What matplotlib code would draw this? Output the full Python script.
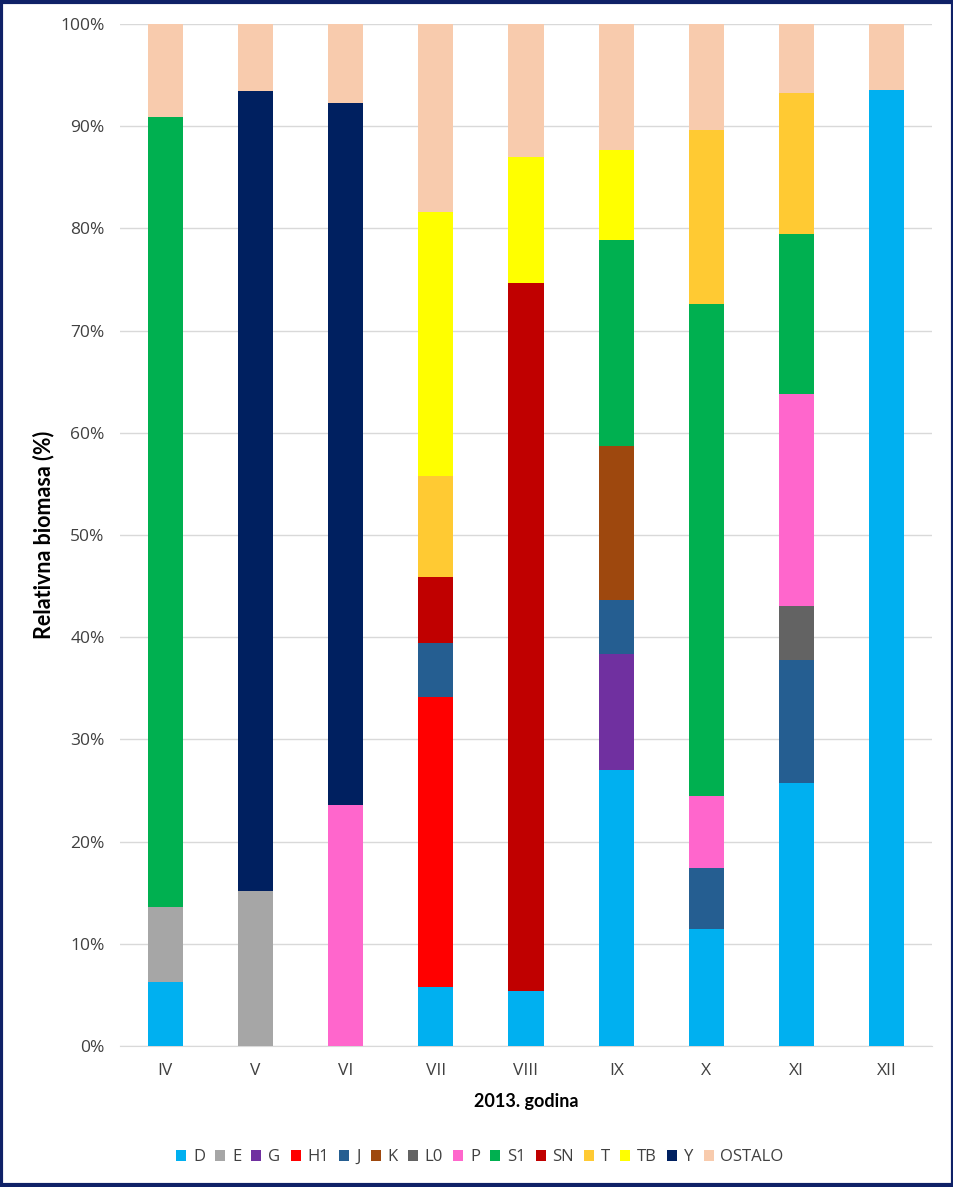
import matplotlib
matplotlib.use("Agg")
import matplotlib.pyplot as plt
import numpy as np
from matplotlib.patches import Rectangle

months = ["IV", "V", "VI", "VII", "VIII", "IX", "X", "XI", "XII"]
groups = ["D", "E", "G", "H1", "J", "K", "L0", "P", "S1", "SN", "T", "TB", "Y", "OSTALO"]

# relative biomass (%) per group, one value per month
D      = [6.3, 0.0, 0.0, 5.8, 5.4, 27.0, 11.4, 25.7, 93.5]
E      = [7.3, 15.2, 0.0, 0.0, 0.0, 0.0, 0.0, 0.0, 0.0]
G      = [0.0, 0.0, 0.0, 0.0, 0.0, 11.4, 0.0, 0.0, 0.0]
H1     = [0.0, 0.0, 0.0, 28.3, 0.0, 0.0, 0.0, 0.0, 0.0]
J      = [0.0, 0.0, 0.0, 5.3, 0.0, 5.2, 6.0, 12.1, 0.0]
K      = [0.0, 0.0, 0.0, 0.0, 0.0, 15.1, 0.0, 0.0, 0.0]
L0     = [0.0, 0.0, 0.0, 0.0, 0.0, 0.0, 0.0, 5.3, 0.0]
P      = [0.0, 0.0, 23.6, 0.0, 0.0, 0.0, 7.1, 20.7, 0.0]
S1     = [77.3, 0.0, 0.0, 0.0, 0.0, 20.2, 48.1, 15.7, 0.0]
SN     = [0.0, 0.0, 0.0, 6.5, 69.3, 0.0, 0.0, 0.0, 0.0]
T      = [0.0, 0.0, 0.0, 9.9, 0.0, 0.0, 17.0, 13.7, 0.0]
TB     = [0.0, 0.0, 0.0, 25.8, 12.3, 8.8, 0.0, 0.0, 0.0]
Y      = [0.0, 78.2, 68.7, 0.0, 0.0, 0.0, 0.0, 0.0, 0.0]
OSTALO = [9.1, 6.6, 7.7, 18.4, 13.0, 12.3, 10.4, 6.8, 6.5]

series = [D, E, G, H1, J, K, L0, P, S1, SN, T, TB, Y, OSTALO]
colors = ["#00B0F0", "#A6A6A6", "#7030A0", "#FF0000", "#255E91", "#9E480E", "#636363",
          "#FF66CC", "#00B050", "#C00000", "#FFCA33", "#FFFF00", "#002060", "#F8CBAD"]

TICK_FONT = ["Open Sans", "DejaVu Sans"]
TITLE_FONT = ["Lato", "DejaVu Sans"]

fig = plt.figure(figsize=(9.54, 11.87), dpi=100)
ax = fig.add_axes([120/954, 1 - 1046/1187, 812/954, 1022/1187])

x = np.arange(len(months))
bottom = np.zeros(len(months))
for name, vals, col in zip(groups, series, colors):
    v = np.array(vals)
    ax.bar(x, v, 0.39, bottom=bottom, color=col, label=name, linewidth=0, zorder=3)
    bottom += v

ax.set_xlim(-0.5, len(months) - 0.5)
ax.set_ylim(0, 100)
ax.set_yticks(np.arange(0, 101, 10))
ax.set_yticklabels([f"{t}%" for t in range(0, 101, 10)], family=TICK_FONT, fontsize=12.5, color="#404040")
ax.set_xticks(x)
ax.set_xticklabels(months, family=TICK_FONT, fontsize=12.5, color="#404040")
ax.tick_params(axis="x", length=0, pad=12)
ax.tick_params(axis="y", length=0, pad=11)
ax.grid(axis="y", color="#D9D9D9", lw=1, zorder=0)
for s in ["top", "right", "left"]:
    ax.spines[s].set_visible(False)
ax.spines["bottom"].set_color("#D9D9D9")

ax.set_ylabel("Relativna biomasa (%)", family=TITLE_FONT, fontsize=15.5, weight="bold")
ax.yaxis.set_label_coords(-0.081, 0.5)
ax.set_xlabel("2013. godina", family=TITLE_FONT, fontsize=13, weight="bold")
ax.xaxis.set_label_coords(0.5, -0.046)

h, l = ax.get_legend_handles_labels()
leg = fig.legend(h, l, loc="center", bbox_to_anchor=(0.503, 0.025), ncol=14, frameon=False,
                 handlelength=0.6, handleheight=0.6, handletextpad=0.4, columnspacing=0.62,
                 prop={"family": TICK_FONT, "size": 12})
for t in leg.get_texts():
    t.set_color("#404040")

# dark frame around the chart
fig.patches.append(Rectangle((0.0015, 0.0015), 0.997, 0.997, transform=fig.transFigure,
                             fill=False, edgecolor="#0F2167", lw=3))

fig.savefig("out.png", dpi=100, facecolor="white")
